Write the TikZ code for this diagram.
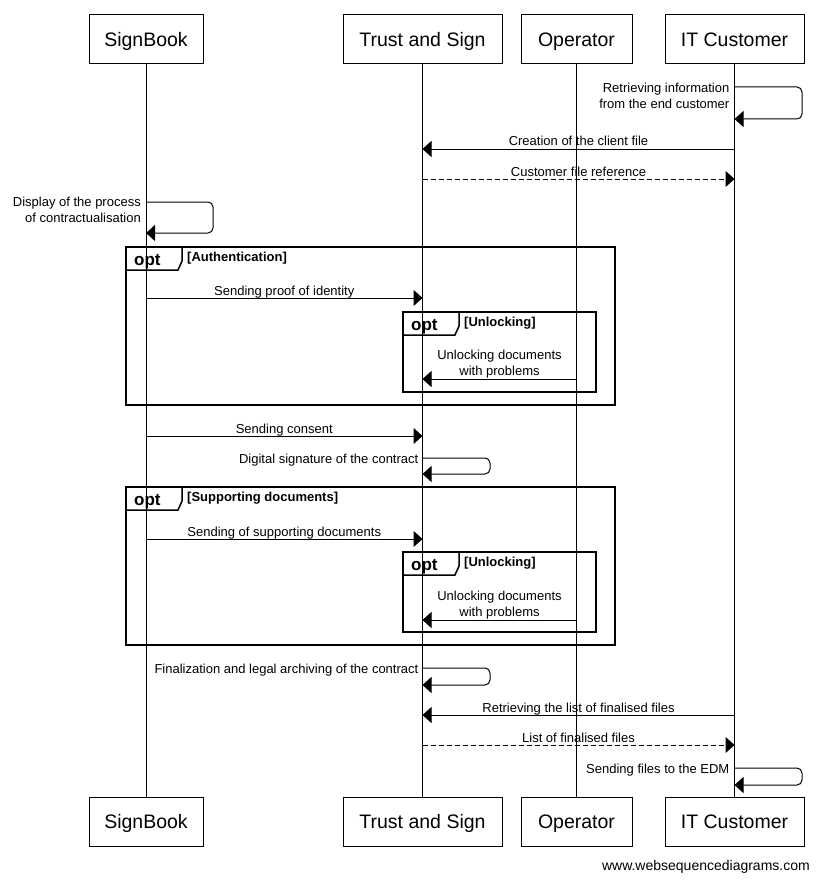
\documentclass[tikz,border=0pt]{standalone}
\usepackage{fontspec}
\setmainfont{Liberation Sans}
\usetikzlibrary{arrows.meta}
\begin{document}
\begin{tikzpicture}[x=1pt,y=-1pt,
  actor/.style={draw, line width=1pt, minimum height=49pt, inner sep=0pt,
    text height=14.5pt, text depth=0pt,
    font=\fontsize{19.5}{22}\selectfont},
  life/.style={line width=1pt},
  msg/.style={line width=1pt, -{Triangle[length=9pt,width=16pt]}},
  reply/.style={msg, dash pattern=on 5pt off 3pt},
  lbl/.style={font=\fontsize{13}{15.5}\selectfont, inner sep=0pt},
  frameline/.style={line width=1.5pt},
  optlbl/.style={font=\fontsize{17}{19}\selectfont\bfseries, inner sep=0pt, anchor=base west},
  guard/.style={font=\fontsize{13}{15}\selectfont\bfseries, inner sep=0pt, anchor=base west}]
\useasboundingbox[fill=white] (0,0) rectangle (819,880);

% participants
\node[actor, minimum width=114pt] (sbT) at (146,39.5) {SignBook};
\node[actor, minimum width=159pt] (tsT) at (422.5,39.5) {Trust and Sign};
\node[actor, minimum width=111pt] (opT) at (576.5,39.5) {Operator};
\node[actor, minimum width=139pt] (itT) at (734.5,39.5) {IT Customer};
\node[actor, minimum width=114pt] (sbB) at (146,821.5) {SignBook};
\node[actor, minimum width=159pt] (tsB) at (422.5,821.5) {Trust and Sign};
\node[actor, minimum width=111pt] (opB) at (576.5,821.5) {Operator};
\node[actor, minimum width=139pt] (itB) at (734.5,821.5) {IT Customer};

% lifelines
\draw[life] (sbT.south) -- (sbB.north);
\draw[life] (tsT.south) -- (tsB.north);
\draw[life] (opT.south) -- (opB.north);
\draw[life] (itT.south) -- (itB.north);

% 1: self IT
\coordinate (a1) at (itT |- 0,87);
\coordinate (b1) at (itT |- 0,119);
\draw[msg, rounded corners=5pt] (a1) -- (802,87) -- (802,119) -- (b1);
\node[lbl, align=right, anchor=north east] (t1) at (729.5,83) {Retrieving information\\from the end customer};

% 2
\coordinate (a2) at (itT |- 0,149);
\coordinate (b2) at (tsT |- 0,149);
\draw[msg] (a2) -- (b2) node[lbl, midway, anchor=base, yshift=3pt] (t2) {Creation of the client file};

% 3
\coordinate (a3) at (tsT |- 0,179);
\coordinate (b3) at (itT |- 0,179);
\draw[reply] (a3) -- (b3) node[lbl, midway, anchor=base, yshift=3pt] (t3) {Customer file reference};

% 4: self SignBook
\coordinate (a4) at (sbT |- 0,202);
\coordinate (b4) at (sbT |- 0,233);
\draw[msg, rounded corners=5pt] (a4) -- (213,202) -- (213,233) -- (b4);
\node[lbl, align=right, anchor=north east] (t4) at (141,197) {Display of the process\\of contractualisation};

% frame 1
\draw[frameline] (126,247) rectangle (615,405);
\draw[frameline] (126,270) -- (178,270) -- (182,261) -- (182,247);
\node[optlbl] (o1) at (134,265) {opt};
\node[guard] (g1) at (187,261) {[Authentication]};

% 5
\coordinate (a5) at (sbT |- 0,298);
\coordinate (b5) at (tsT |- 0,298);
\draw[msg] (a5) -- (b5) node[lbl, midway, anchor=base, yshift=3pt] (t5) {Sending proof of identity};

% inner frame 1
\draw[frameline] (403,312) rectangle (596,392);
\draw[frameline] (403,335) -- (455,335) -- (459,326) -- (459,312);
\node[optlbl] (o2) at (411,330) {opt};
\node[guard] (g2) at (464,326) {[Unlocking]};

% 6
\coordinate (a6) at (opT |- 0,379);
\coordinate (b6) at (tsT |- 0,379);
\draw[msg] (a6) -- (b6) node[lbl, midway, anchor=south, align=center, yshift=0.5pt] (t6) {Unlocking documents\\with problems};

% 7
\coordinate (a7) at (sbT |- 0,436);
\coordinate (b7) at (tsT |- 0,436);
\draw[msg] (a7) -- (b7) node[lbl, midway, anchor=base, yshift=3pt] (t7) {Sending consent};

% 8: self Trust
\coordinate (a8) at (tsT |- 0,458);
\coordinate (b8) at (tsT |- 0,474);
\draw[msg, rounded corners=5pt] (a8) -- (490,458) -- (490,474) -- (b8);
\node[lbl, anchor=base east] (t8) at (418.5,463) {Digital signature of the contract};

% frame 2
\draw[frameline] (126,487) rectangle (615,645);
\draw[frameline] (126,510) -- (178,510) -- (182,501) -- (182,487);
\node[optlbl] (o3) at (134,505) {opt};
\node[guard] (g3) at (187,501) {[Supporting documents]};

% 9
\coordinate (a9) at (sbT |- 0,539);
\coordinate (b9) at (tsT |- 0,539);
\draw[msg] (a9) -- (b9) node[lbl, midway, anchor=base, yshift=3pt] (t9) {Sending of supporting documents};

% inner frame 2
\draw[frameline] (403,552) rectangle (596,632);
\draw[frameline] (403,575) -- (455,575) -- (459,566) -- (459,552);
\node[optlbl] (o4) at (411,570) {opt};
\node[guard] (g4) at (464,566) {[Unlocking]};

% 10
\coordinate (a10) at (opT |- 0,620);
\coordinate (b10) at (tsT |- 0,620);
\draw[msg] (a10) -- (b10) node[lbl, midway, anchor=south, align=center, yshift=0.5pt] (t10) {Unlocking documents\\with problems};

% 11: self Trust
\coordinate (a11) at (tsT |- 0,668);
\coordinate (b11) at (tsT |- 0,685);
\draw[msg, rounded corners=5pt] (a11) -- (490,668) -- (490,685) -- (b11);
\node[lbl, anchor=base east] (t11) at (418.5,673) {Finalization and legal archiving of the contract};

% 12
\coordinate (a12) at (itT |- 0,715);
\coordinate (b12) at (tsT |- 0,715);
\draw[msg] (a12) -- (b12) node[lbl, midway, anchor=base, yshift=3pt] (t12) {Retrieving the list of finalised files};

% 13
\coordinate (a13) at (tsT |- 0,745);
\coordinate (b13) at (itT |- 0,745);
\draw[reply] (a13) -- (b13) node[lbl, midway, anchor=base, yshift=3pt] (t13) {List of finalised files};

% 14: self IT
\coordinate (a14) at (itT |- 0,768);
\coordinate (b14) at (itT |- 0,785);
\draw[msg, rounded corners=5pt] (a14) -- (802,768) -- (802,785) -- (b14);
\node[lbl, anchor=base east] (t14) at (729.5,773) {Sending files to the EDM};

% footer
\node[font=\fontsize{14}{16}\selectfont, inner sep=0pt, anchor=base east] (foot) at (810,870) {www.websequencediagrams.com};
\end{tikzpicture}
\end{document}
